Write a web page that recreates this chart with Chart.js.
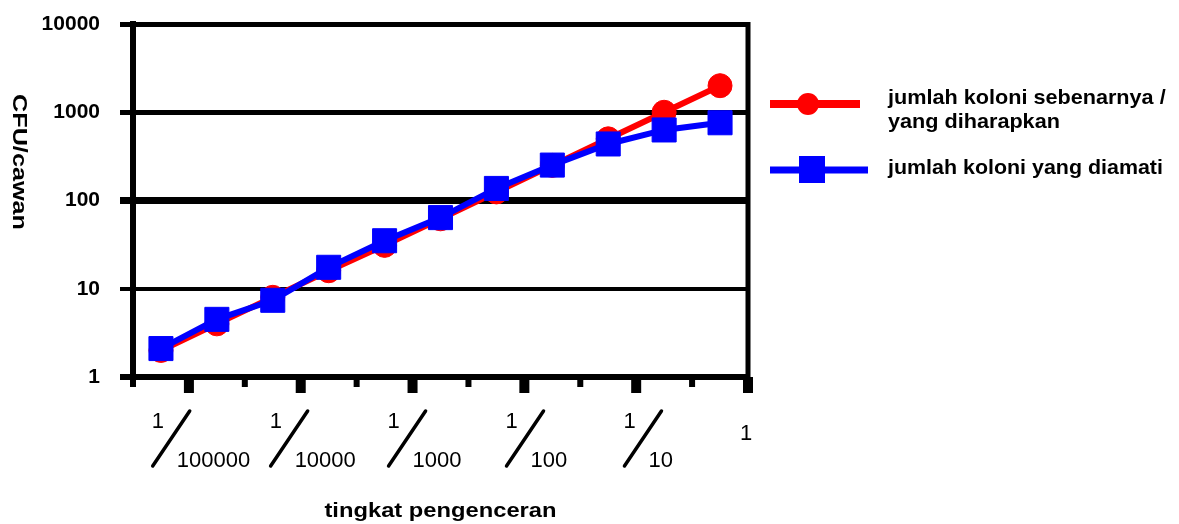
<!DOCTYPE html>
<html>
<head>
<meta charset="utf-8">
<script src="https://cdn.jsdelivr.net/npm/chart.js@4/dist/chart.umd.min.js"></script>
<style>
html, body { margin: 0; padding: 0; background: #fff; }
</style>
</head>
<body>
<canvas id="myChart" width="1179" height="524"></canvas>
<script>
// dilution steps (two per decade on the axis)
const categories = ['1', '2', '3', '4', '5', '6', '7', '8', '9', '10', '11']
const expected = [2, 4, 8, 16, 31, 62, 125, 250, 500, 1000, 2000]
const observed = [2.1, 4.5, 7.4, 17.5, 35, 64, 137, 252, 437, 630, 760]
const yTicks = [1, 10, 100, 1000, 10000]
const xTickLabels = ['1/100000', '1/10000', '1/1000', '1/100', '1/10', '1']
const seriesNames = ['jumlah koloni sebenarnya / yang diharapkan', 'jumlah koloni yang diamati']
const legendLines = [['jumlah koloni sebenarnya /', 'yang diharapkan'], ['jumlah koloni yang diamati']]

const FONT = '"Liberation Sans", Arial, sans-serif'
const gridWidths = { 1: 6, 10: 4, 100: 7, 1000: 5, 10000: 5 }

function stretchedText(ctx, text, x, y, sx) {
	ctx.save()
	ctx.translate(x, y)
	ctx.scale(sx, 1)
	ctx.fillText(text, 0, 0)
	ctx.restore()
}

const decorPlugin = {
	id: 'decor',
	afterDraw(chart) {
		const ctx = chart.ctx
		const xs = chart.scales.x
		const area = chart.chartArea
		ctx.save()
		ctx.fillStyle = '#000'
		ctx.strokeStyle = '#000'

		// right frame line
		ctx.fillRect(area.right - 2.5, area.top - 2, 5, area.bottom - area.top + 2)

		// x tick marks at the band edges, big ones under the labels
		for (let k = 0; k <= categories.length; k++) {
			const px = xs.getPixelForValue(k - 0.5)
			if (k % 2 === 1) ctx.fillRect(px - 5, area.bottom, 10, 16)
			else ctx.fillRect(px - 3, area.bottom, 6, 10)
		}

		// fraction labels
		xTickLabels.forEach((lab, i) => {
			const px = xs.getPixelForValue(2 * i + 0.5)
			const parts = lab.split('/')
			ctx.textAlign = 'left'
			ctx.textBaseline = 'alphabetic'
			ctx.font = '22px ' + FONT
			if (parts.length === 1) {
				ctx.textAlign = 'center'
				ctx.fillText(parts[0], px - 2, 440)
				return
			}
			const dw = ctx.measureText(parts[1]).width
			const w = 25 + dw
			const left = px + 12 - w / 2
			ctx.fillText(parts[0], left, 428)
			ctx.lineWidth = 3.5
			ctx.lineCap = 'round'
			ctx.beginPath()
			ctx.moveTo(left + 1, 466)
			ctx.lineTo(left + 38, 411)
			ctx.stroke()
			ctx.fillText(parts[1], left + 25, 467)
		})

		// axis titles
		ctx.font = 'bold 21px ' + FONT
		ctx.textAlign = 'center'
		ctx.textBaseline = 'alphabetic'
		stretchedText(ctx, 'tingkat pengenceran', (area.left + area.right) / 2, 517, 1.13)

		ctx.save()
		ctx.translate(13, 162)
		ctx.rotate(Math.PI / 2)
		ctx.textBaseline = 'alphabetic'
		ctx.scale(1.2, 1)
		ctx.fillText('CFU/cawan', 0, 0)
		ctx.restore()

		// legend
		const ds = chart.data.datasets
		ctx.lineCap = 'butt'
		ctx.strokeStyle = ds[0].borderColor
		ctx.lineWidth = 8
		ctx.beginPath(); ctx.moveTo(770, 104); ctx.lineTo(860, 104); ctx.stroke()
		ctx.fillStyle = ds[0].backgroundColor
		ctx.beginPath(); ctx.arc(808, 104, 11, 0, Math.PI * 2); ctx.fill()

		ctx.strokeStyle = ds[1].borderColor
		ctx.lineWidth = 7
		ctx.beginPath(); ctx.moveTo(770, 170); ctx.lineTo(868, 170); ctx.stroke()
		ctx.fillStyle = ds[1].backgroundColor
		ctx.fillRect(799, 156, 26, 27)

		ctx.fillStyle = '#000'
		ctx.font = 'bold 21px ' + FONT
		ctx.textAlign = 'left'
		legendLines[0].forEach((t, j) => stretchedText(ctx, t, 888, 104 + j * 24, 1.03))
		legendLines[1].forEach((t, j) => stretchedText(ctx, t, 888, 174 + j * 24, 1.02))
		ctx.restore()
	}
}

let cfg = {
	type: 'line',
	data: {
		labels: categories,
		datasets: [
			{
				label: seriesNames[0],
				data: expected,
				borderColor: '#ff0000',
				backgroundColor: '#ff0000',
				borderWidth: 6,
				pointStyle: 'circle',
				pointRadius: 12,
				pointBorderWidth: 1,
				tension: 0,
				order: 2
			},
			{
				label: seriesNames[1],
				data: observed,
				borderColor: '#0000ff',
				backgroundColor: '#0000ff',
				borderWidth: 6,
				pointStyle: 'rect',
				pointRadius: 17,
				pointBorderWidth: 1,
				tension: 0,
				order: 1
			}
		]
	},
	options: {
		responsive: false,
		devicePixelRatio: 1,
		animation: false,
		layout: { padding: { top: 24, right: 431, left: 0, bottom: 0 } },
		plugins: {
			legend: { display: false },
			tooltip: { enabled: false }
		},
		scales: {
			x: {
				type: 'category',
				offset: true,
				grid: { display: false },
				border: { display: false },
				ticks: { display: false },
				afterFit(s) { s.height = 147 }
			},
			y: {
				type: 'logarithmic',
				min: 1,
				max: 10000,
				afterBuildTicks(s) { s.ticks = yTicks.map(v => ({ value: v })) },
				ticks: {
					color: '#000',
					padding: 20,
					font: { family: FONT, size: 21, weight: 'bold' },
					callback: v => String(v)
				},
				grid: {
					color: '#000',
					lineWidth: c => gridWidths[c.tick.value] || 4,
					tickLength: 13
				},
				border: { display: true, color: '#000', width: 6 },
				afterFit(s) {
					s.width = 133
					s.paddingTop = 0
					s.paddingBottom = 0
				}
			}
		}
	},
	plugins: [decorPlugin]
}

new Chart('myChart', cfg)
</script>
</body>
</html>
